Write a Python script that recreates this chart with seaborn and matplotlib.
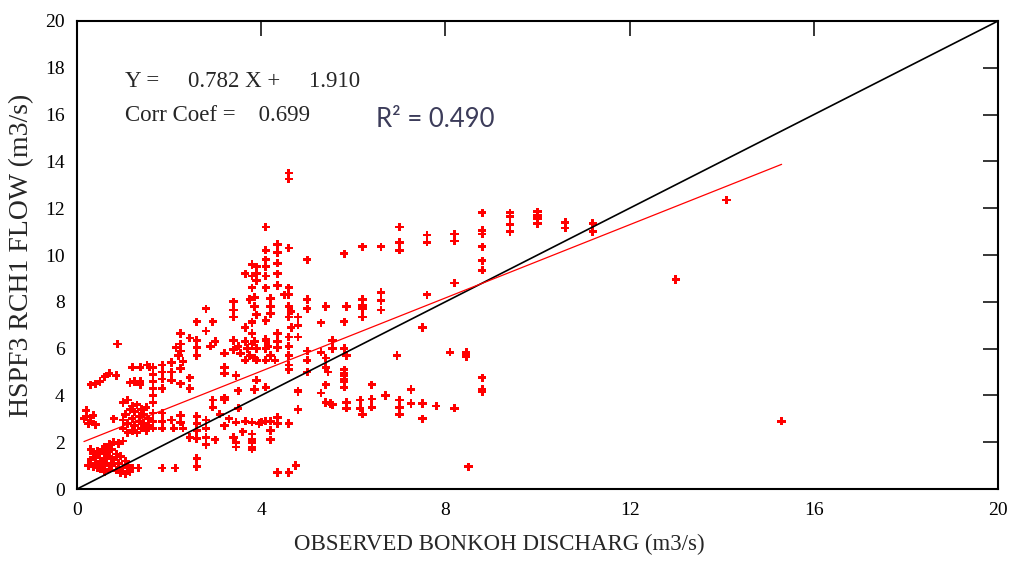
import matplotlib
matplotlib.use("Agg")
import matplotlib.pyplot as plt
import seaborn as sns
import pandas as pd

# ---------------- data ----------------
pts = [
    # low cluster near origin
    (0.25,1.0),(0.3,1.25),(0.35,0.95),(0.35,1.5),(0.4,1.1),(0.4,1.35),(0.45,1.6),(0.45,0.9),(0.5,1.2),(0.5,1.5),
    (0.55,1.0),(0.55,1.7),(0.6,1.3),(0.6,1.8),(0.65,1.1),(0.65,1.55),(0.7,1.9),(0.7,1.4),(0.75,1.0),(0.75,1.7),
    (0.8,2.0),(0.8,1.25),(0.85,0.8),(0.85,1.5),(0.9,1.95),(0.9,1.1),(0.95,1.4),(0.95,0.7),(1.0,0.9),(1.0,2.05),
    (1.05,1.2),(1.05,0.65),(1.1,1.0),(1.15,0.75),(1.2,0.9),(1.33,0.9),(0.3,1.7),(0.5,0.85),(0.6,0.75),(0.7,0.85),
    # left, mid height
    (0.88,6.2),(0.3,4.45),(0.4,4.5),(0.5,4.6),(0.6,4.8),(0.7,4.95),(0.85,4.85),(0.2,3.35),(0.15,3.0),(0.25,2.8),
    (0.3,2.9),(0.35,3.15),(0.4,2.75),(0.2,3.1),
    # x 0.8-1.6, y 2.2-3.8
    (0.8,3.0),(1.0,3.7),(1.0,2.95),(1.0,2.6),(1.05,3.2),(1.1,2.4),(1.1,2.8),(1.15,3.4),(1.2,2.5),(1.2,3.0),
    (1.25,2.7),(1.25,3.3),(1.3,2.4),(1.3,3.6),(1.35,2.9),(1.35,3.1),(1.4,2.6),(1.4,3.4),(1.45,2.8),(1.45,3.2),
    (1.5,3.5),(1.5,2.5),(1.55,3.0),(1.55,2.7),(1.1,3.8),(1.2,3.55),
    # columns x 1.15-2.45, y 3.7-6.7
    (1.2,5.2),(1.37,5.2),(1.37,4.6),(1.37,4.45),(1.15,4.55),(1.25,4.6),(1.52,5.3),(1.58,5.2),(1.65,5.2),(1.65,4.9),
    (1.65,4.6),(1.65,4.3),(1.65,4.0),(1.65,3.7),(1.85,5.3),(1.85,5.0),(1.85,4.7),(1.85,4.3),(2.05,5.4),(2.05,5.0),
    (2.05,4.65),(2.15,6.05),(2.2,5.7),(2.3,5.45),(2.25,6.2),(2.25,5.9),(2.25,5.15),(2.25,6.65),(2.45,6.45),(2.45,4.75),
    (2.45,4.3),(2.25,4.5),
    # x 1.65-2.3, y 2.4-3.3
    (1.65,3.25),(1.65,2.9),(1.65,2.6),(1.85,3.25),(1.85,2.9),(1.85,2.6),(2.05,2.95),(2.1,2.6),(2.25,3.15),(2.25,2.85),
    (2.3,2.6),
    # x 2.4-3.2
    (2.6,6.35),(2.6,6.05),(2.6,5.7),(2.6,7.15),(2.8,7.7),(2.8,6.75),(2.95,7.15),(3.0,6.3),(2.9,6.1),(3.2,5.8),
    (3.2,5.2),(3.2,4.95),(2.95,3.8),(2.95,3.5),(3.2,3.9),(2.6,3.1),(2.6,2.8),(2.6,2.5),(2.8,2.95),(2.8,2.6),
    (2.8,2.2),(3.2,2.7),(2.45,2.2),(2.6,2.15),(2.8,1.9),(3.0,2.1),(2.6,1.3),(2.6,0.95),(1.85,0.9),(2.13,0.9),
    # x 3.3-4.4, y 5-8.5
    (3.4,8.0),(3.4,7.65),(3.4,7.35),(3.85,8.2),(3.85,7.8),(3.9,7.45),(3.65,6.9),(3.8,7.15),(3.8,6.65),(3.4,6.35),
    (3.4,5.95),(3.65,6.3),(3.7,6.0),(3.75,5.7),(3.9,5.5),(3.65,5.5),(3.8,6.2),(3.5,6.1),(3.55,5.8),(3.85,6.3),
    (3.9,6.0),(3.85,5.6),(4.1,6.35),(4.1,6.0),(4.2,5.7),(4.3,5.5),(4.1,6.4),(4.15,6.1),(4.1,5.5),(4.35,6.65),
    (4.35,6.3),(4.35,6.05),(3.75,8.1),(4.2,8.15),(4.2,7.8),(4.1,7.2),(4.2,7.5),(3.8,7.1),
    # x 3.6-5.0, high
    (3.65,9.2),(3.8,9.6),(3.8,9.1),(3.8,8.6),(3.9,9.5),(3.9,9.2),(3.9,8.9),(4.1,11.2),(4.1,10.2),(4.1,9.8),
    (4.1,9.5),(4.1,9.1),(4.1,8.6),(4.35,10.45),(4.35,10.1),(4.35,9.65),(4.35,9.2),(4.35,8.7),(4.6,10.3),(4.6,8.6),
    (4.5,8.3),(4.6,8.3),(4.6,13.5),(4.6,13.25),(5.0,9.8),
    # x 4.5-5.5, mid
    (4.6,7.8),(4.6,7.35),(4.8,7.35),(5.0,8.1),(5.0,7.7),(5.4,7.8),(5.3,7.1),(4.8,7.0),(4.8,6.5),(4.6,6.5),
    (4.6,6.1),(4.6,5.7),(4.6,5.3),(4.6,5.1),(5.0,5.9),(5.0,5.5),(5.0,5.0),(5.3,5.85),(5.4,5.6),(5.4,5.2),
    (5.45,5.0),(4.65,6.9),(4.65,7.6),
    # x 3.1-5.5, low
    (3.45,4.85),(3.5,4.2),(3.85,4.25),(4.1,4.35),(3.9,4.65),(4.8,4.15),(4.8,4.2),(5.3,4.1),(5.4,4.45),(5.4,3.7),
    (5.5,3.65),(4.8,3.4),(3.5,3.45),(3.45,2.85),(3.65,2.9),(3.8,2.85),(3.95,2.8),(4.1,2.9),(4.0,2.85),(4.35,3.05),
    (4.35,2.8),(4.6,2.8),(4.2,2.5),(4.2,2.1),(3.6,2.45),(3.8,2.35),(3.8,2.1),(3.8,2.0),(3.8,1.8),(3.8,1.7),
    (3.45,2.0),(3.45,1.8),(3.2,3.8),(3.1,3.2),(3.3,3.0),(4.35,0.7),(4.6,0.7),(4.75,1.0),(4.2,2.9),(3.4,2.2),
    # x 5.5-8.8
    (5.8,10.05),(6.2,10.35),(6.6,10.35),(7.0,11.2),(7.0,10.55),(7.0,10.2),(7.6,10.85),(7.6,10.55),(8.2,10.9),(8.2,10.6),
    (6.6,8.4),(6.6,8.05),(6.6,7.65),(6.2,8.1),(6.2,7.85),(6.2,7.7),(6.2,7.35),(5.85,7.8),(5.8,7.15),(7.6,8.3),
    (8.2,8.8),(7.5,6.9),(5.55,6.0),(5.8,6.0),(5.85,5.7),(6.95,5.7),(8.1,5.85),(8.45,5.85),(8.45,5.75),(8.45,5.65),
    (5.8,5.1),(5.8,4.85),(5.8,4.6),(5.8,4.35),(5.8,4.95),(5.8,4.7),(6.4,4.45),(6.7,4.0),(7.25,4.25),(5.55,3.6),
    (5.85,3.7),(5.85,3.45),(6.15,3.8),(6.15,3.45),(6.2,3.2),(6.4,3.85),(6.4,3.5),(7.0,3.8),(7.0,3.5),(7.0,3.2),
    (7.25,3.65),(7.5,3.65),(7.5,3.0),(7.8,3.55),(8.2,3.45),(8.5,0.95),(8.8,4.75),(8.8,4.25),(8.8,4.15),(5.55,6.35),
    # x 8.8-15.3
    (8.8,11.8),(8.8,11.05),(8.8,10.9),(8.8,10.35),(8.8,9.75),(8.8,9.35),(9.4,11.8),(9.4,11.65),(9.4,11.3),(9.4,11.0),
    (10.0,11.85),(10.0,11.7),(10.0,11.55),(10.0,11.35),(10.6,11.4),(10.6,11.15),(11.2,11.35),(11.2,11.0),(14.1,12.35),(13.0,8.95),
    (15.3,2.9),
]
observed = [p[0] for p in pts]
simulated = [p[1] for p in pts]

slope = 0.782
intercept = 1.910
corr_coef = 0.699
r_squared = 0.490

x_ticks = [0, 4, 8, 12, 16, 20]
y_ticks = [0, 2, 4, 6, 8, 10, 12, 14, 16, 18, 20]
axis_limits = [0, 20]

# ---------------- plot ----------------
sns.set_style("white")
plt.rcParams['font.family'] = ['Liberation Serif', 'DejaVu Serif']

fig = plt.figure(figsize=(10.11, 5.61), dpi=100)
ax = fig.add_axes([0.0762, 0.1283, 0.9110, 0.8343])

df = pd.DataFrame({"obs": observed, "sim": simulated})
sns.scatterplot(data=df, x="obs", y="sim", marker="P", s=36, color="red",
                edgecolor="none", linewidth=0, ax=ax, zorder=3)

one = pd.DataFrame({"x": axis_limits, "y": axis_limits})
sns.lineplot(data=one, x="x", y="y", color="black", linewidth=1.2, ax=ax, zorder=4)

xr = [min(observed), max(observed)]
reg = pd.DataFrame({"x": xr, "y": [slope * v + intercept for v in xr]})
sns.lineplot(data=reg, x="x", y="y", color="red", linewidth=0.9, ax=ax, zorder=4)

ax.set_xlim(axis_limits)
ax.set_ylim(axis_limits)
ax.set_xticks(x_ticks)
ax.set_yticks(y_ticks)
ax.tick_params(direction="in", length=11, width=1.1, color="black",
               top=True, right=True, labelsize=14, pad=9, labelcolor="black")
for s in ax.spines.values():
    s.set_visible(True)
    s.set_color("black")
    s.set_linewidth(1.5)

ax.set_xlabel("OBSERVED BONKOH DISCHARG (m3/s)", fontsize=16.5)
ax.xaxis.set_label_coords(0.459, -0.095)
ax.set_ylabel("HSPF3 RCH1 FLOW (m3/s)", fontsize=20, labelpad=8)

ax.text(1.04, 17.4, f"Y =     {slope:.3f} X +     {intercept:.3f}", fontsize=16.5,
        va="center", ha="left")
ax.text(1.04, 15.95, f"Corr Coef =    {corr_coef:.3f}", fontsize=16.5,
        va="center", ha="left")
ax.text(6.5, 15.8, f"R² = {r_squared:.3f}", fontsize=18.5, family=["Lato", "DejaVu Sans"],
        color="#3c3c5a", va="center", ha="left")

fig.savefig("out.png", dpi=100)
